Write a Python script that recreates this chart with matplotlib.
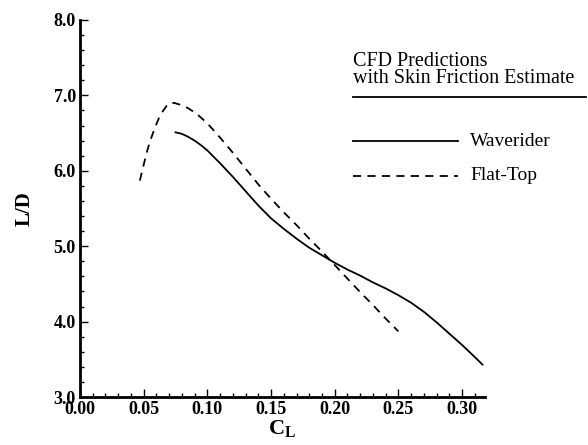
import matplotlib
matplotlib.use("Agg")
import matplotlib.pyplot as plt
from matplotlib.lines import Line2D
from matplotlib.ticker import MultipleLocator, FormatStrFormatter

plt.rcParams["font.family"] = ["Liberation Serif", "DejaVu Serif"]
plt.rcParams["mathtext.fontset"] = "custom"
plt.rcParams["mathtext.bf"] = "Liberation Serif:bold"
plt.rcParams["mathtext.rm"] = "Liberation Serif"

# Waverider, CFD with skin friction estimate
waverider_cl = [0.075, 0.080, 0.085, 0.090, 0.095, 0.100, 0.110, 0.120,
                0.130, 0.140, 0.150, 0.160, 0.170, 0.180, 0.190, 0.200,
                0.210, 0.220, 0.230, 0.240, 0.250, 0.260, 0.270, 0.280,
                0.290, 0.300, 0.310, 0.316]
waverider_ld = [6.51, 6.49, 6.45, 6.40, 6.34, 6.27, 6.10, 5.92,
                5.73, 5.54, 5.37, 5.23, 5.10, 4.98, 4.88, 4.78,
                4.69, 4.61, 4.52, 4.44, 4.35, 4.25, 4.13, 3.99,
                3.84, 3.69, 3.53, 3.43]

# Flat-top, CFD with skin friction estimate
flattop_cl = [0.047, 0.050, 0.053, 0.056, 0.059, 0.062, 0.065, 0.068,
              0.071, 0.074, 0.078, 0.085, 0.092, 0.100, 0.110, 0.120,
              0.130, 0.140, 0.150, 0.160, 0.170, 0.180, 0.190, 0.200,
              0.210, 0.220, 0.230, 0.240, 0.250]
flattop_ld = [5.87, 6.08, 6.28, 6.44, 6.58, 6.70, 6.79, 6.86,
              6.90, 6.90, 6.88, 6.83, 6.75, 6.63, 6.44, 6.24,
              6.03, 5.82, 5.63, 5.45, 5.28, 5.10, 4.93, 4.75,
              4.57, 4.39, 4.22, 4.04, 3.87]

W, H = 588, 445
fig = plt.figure(figsize=(W / 100, H / 100), dpi=100)
ax = fig.add_axes([80 / W, 1 - 397 / H, (485 - 80) / W, (397 - 20) / H])

dash = (0, (4.5, 3.5))
ax.plot(waverider_cl, waverider_ld, color="black", lw=1.3)
ax.plot(flattop_cl, flattop_ld, color="black", lw=1.3, linestyle=dash)

ax.set_xlim(0, 0.318)
ax.set_ylim(3.0, 8.0)
ax.xaxis.set_major_locator(MultipleLocator(0.05))
ax.xaxis.set_minor_locator(MultipleLocator(0.01))
ax.yaxis.set_major_locator(MultipleLocator(1.0))
ax.yaxis.set_minor_locator(MultipleLocator(0.2))
ax.xaxis.set_major_formatter(FormatStrFormatter("%.2f"))
ax.yaxis.set_major_formatter(FormatStrFormatter("%.1f"))

for side in ("top", "right"):
    ax.spines[side].set_visible(False)
for side in ("left", "bottom"):
    ax.spines[side].set_linewidth(2.0)

ax.tick_params(which="both", direction="in", width=1.0, labelsize=13)
ax.tick_params(which="major", length=6, pad=3)
ax.tick_params(which="minor", length=3)
for lab in ax.get_xticklabels() + ax.get_yticklabels():
    lab.set_fontweight("bold")

ax.set_ylabel("L/D", fontsize=15, fontweight="bold", labelpad=14)
ax.set_xlabel(r"$\mathbf{C}_\mathbf{L}$", fontsize=16, labelpad=0)


def px(x, y):
    return x / W, 1 - y / H


# legend block drawn by hand in figure pixels
tx, ty = px(353, 52)
fig.text(tx, ty, "CFD Predictions\nwith Skin Friction Estimate",
         fontsize=14.5, va="top", ha="left", linespacing=0.85)
x0, y0 = px(353, 97)
x1, _ = px(586, 97)
fig.add_artist(Line2D([x0, x1], [y0, y0], color="black", lw=1.3,
                      transform=fig.transFigure))
for label, ls, yy in [("Waverider", "-", 141), ("Flat-Top", dash, 176)]:
    a, b = px(353, yy)
    c, _ = px(458, yy)
    fig.add_artist(Line2D([a, c], [b, b], color="black", lw=1.3, linestyle=ls,
                          transform=fig.transFigure))
    lx, ly = px(470, yy)
    fig.text(lx, ly, label, fontsize=14, va="center", ha="left")

fig.savefig("out.png", dpi=100)
